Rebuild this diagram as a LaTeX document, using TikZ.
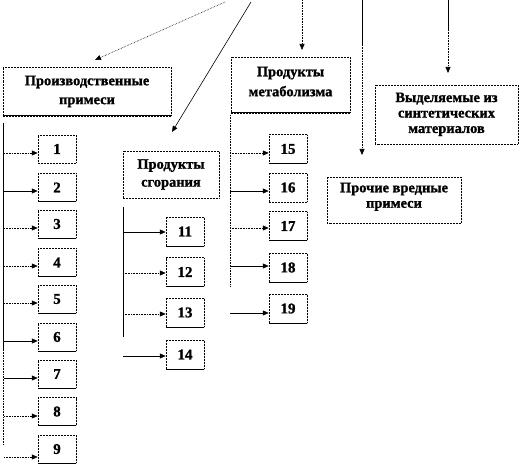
\documentclass[tikz,border=0pt]{standalone}
\usepackage{fontspec}
\setmainfont{Liberation Serif}[BoldFeatures={FakeBold=1.2}]
\usetikzlibrary{arrows.meta}
\begin{document}
\begin{tikzpicture}[x=1bp,y=-1bp,
  box/.style={draw=black, line width=0.5pt, densely dotted, inner sep=0pt, align=center,
    font=\bfseries\fontsize{14.5}{15.5}\selectfont,
    path picture={\draw[solid, line width=1pt] (path picture bounding box.north east) -- (path picture bounding box.south east) -- (path picture bounding box.south west);}},
  numbox/.style={box, minimum width=38bp, minimum height=28bp, font=\bfseries\fontsize{15}{15}\selectfont},
  arr/.style={-{Triangle[length=6bp,width=5bp]}, line width=0.6pt},
  dot/.style={densely dotted},
  trunk/.style={line width=0.6pt}]
\useasboundingbox (0,0) rectangle (522,467);
% category boxes
\node[box, minimum width=168bp, minimum height=49bp, font=\bfseries\fontsize{14.5}{19}\selectfont] (prod) at (87,91.5) {Производственные\\примеси};
\node[box, minimum width=119bp, minimum height=56bp, font=\bfseries\fontsize{14.5}{20}\selectfont] (metab) at (290.5,85) {Продукты\\метаболизма\\[-13bp]};
\node[box, minimum width=143bp, minimum height=59bp] (synth) at (446.5,114.5) {Выделяемые из\\синтетических\\материалов\\[-12bp]};
\node[box, minimum width=134bp, minimum height=46bp] (proch) at (394,200) {Прочие вредные\\примеси\\[-6bp]};
\node[box, minimum width=96bp, minimum height=47bp, font=\bfseries\fontsize{14.5}{18}\selectfont] (comb) at (171,174.5) {Продукты\\сгорания};
% top arrows
\coordinate (s1) at (225,2); \coordinate (e1) at (95,60);
\coordinate (s2) at (251,2); \coordinate (e2) at (172,132);
\coordinate (s3) at (302,0); \coordinate (e3) at (302,50);
\coordinate (s4) at (362,0); \coordinate (e4) at (362,155);
\coordinate (s5) at (448,0); \coordinate (e5) at (448,73);
\draw[arr,dot] (s1) -- (e1);
\draw[arr] (s2) -- (e2);
\draw[arr,dot] (s3) -- (e3);
\draw[trunk] (s4) -- (362,45); \draw[arr,dot] (362,45) -- (e4);
\draw[trunk] (s5) -- (448,30); \draw[arr,dot] (448,30) -- (e5);
% left column
\foreach \i/\y in {1/149,2/187.5,3/224,4/262.5,5/299,6/337,7/374,8/411.5,9/449}
  \node[numbox] (n\i) at (57,\y) {\i};
\coordinate (lt0) at (3,123); \coordinate (ltm) at (3,350); \coordinate (ltb) at (3,445);
\draw[trunk] (lt0) -- (ltm);
\draw[trunk,dot] (ltm) -- (ltb);
\foreach \i/\y/\st in {1/153/dot,2/191/solid,3/228/dot,4/266/dot,5/303/dot,6/341/solid,7/378/solid,8/416/dot,9/457/dot}{
  \coordinate (l\i) at (4,\y);
  \draw[arr,\st] (l\i) -- (l\i -| n\i.west);
}
% middle column
\foreach \i/\y in {11/231.5,12/272,13/312.5,14/354.5}
  \node[numbox, minimum height=29bp] (n\i) at (185,\y) {\i};
\coordinate (mt0) at (123,207); \coordinate (mtb) at (123,337);
\draw[trunk] (mt0) -- (mtb);
\foreach \i/\y/\st in {11/232/solid,12/273/dot,13/314/dot,14/356/solid}{
  \coordinate (m\i) at (123,\y);
  \draw[arr,\st] (m\i) -- (m\i -| n\i.west);
}
% right column
\foreach \i/\y in {15/149,16/187.5,17/226,18/267.5,19/308.5}
  \node[numbox, minimum height=29bp] (n\i) at (288,\y) {\i};
\coordinate (rt0) at (230,115); \coordinate (rtb) at (230,287);
\draw[trunk,dot] (rt0) -- (rtb);
\foreach \i/\y/\st in {15/153/dot,16/191/solid,17/228/dot,18/266/solid,19/313/solid}{
  \coordinate (r\i) at (230,\y);
  \draw[arr,\st] (r\i) -- (r\i -| n\i.west);
}
\end{tikzpicture}
\end{document}
